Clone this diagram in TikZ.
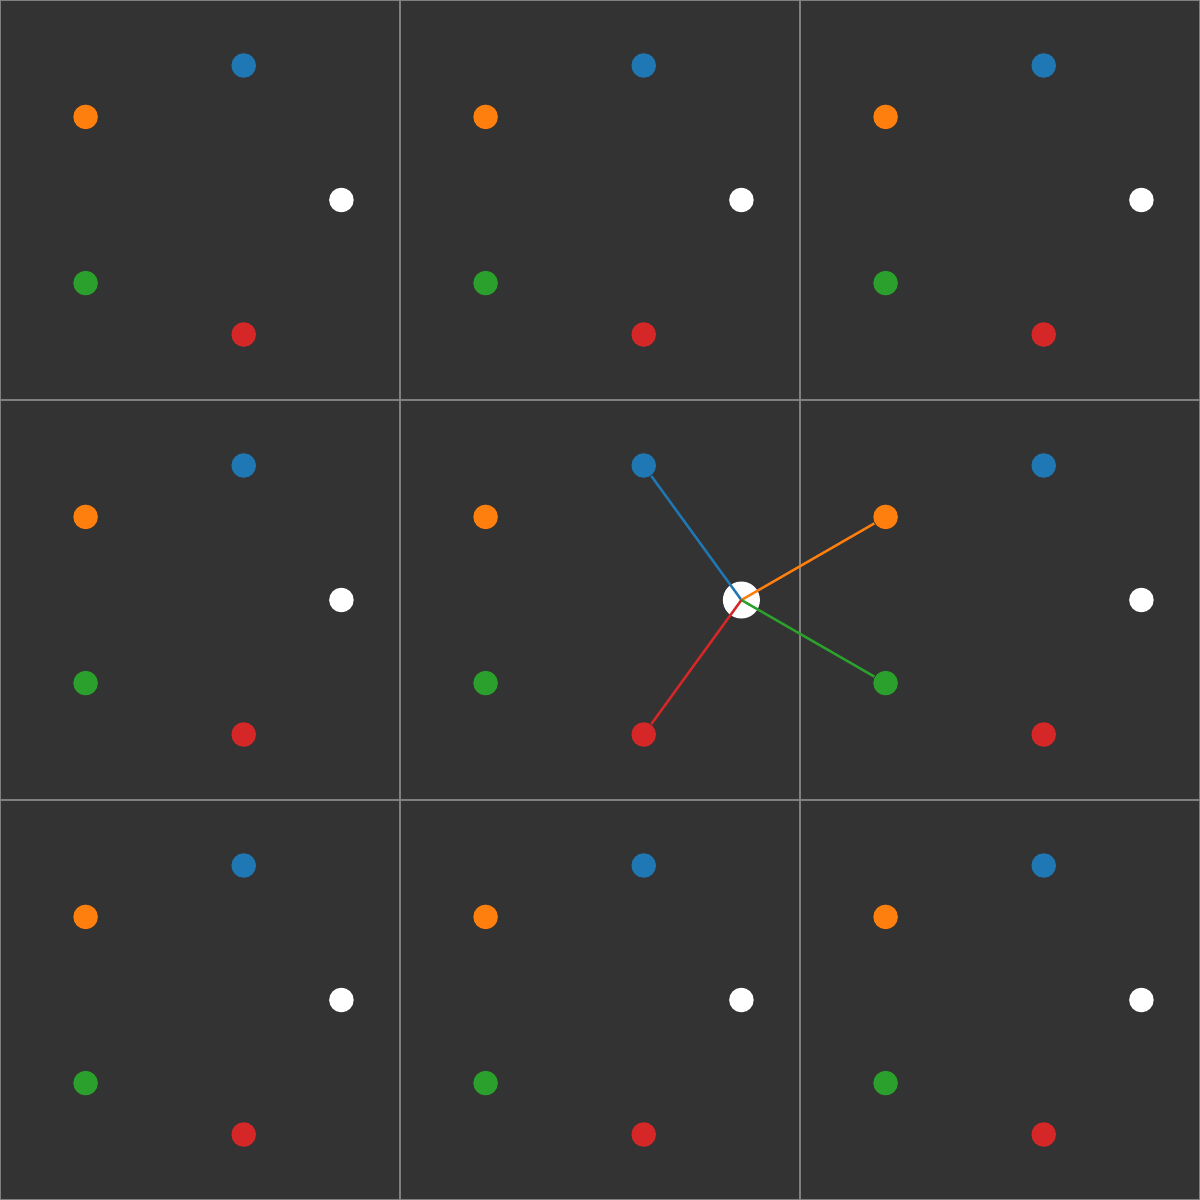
\documentclass[tikz,border=0pt]{standalone}
\usepackage{xcolor}
\definecolor{bgdark}{RGB}{51,51,51}
\definecolor{gridgray}{RGB}{128,128,128}
\definecolor{tabblue}{RGB}{31,119,180}
\definecolor{taborange}{RGB}{255,127,14}
\definecolor{tabgreen}{RGB}{44,160,44}
\definecolor{tabred}{RGB}{214,39,40}
\tikzset{
  dot/.style={circle, inner sep=0pt, minimum size=0.245cm, draw=none, fill=#1},
  bigdot/.style={circle, inner sep=0pt, minimum size=0.37cm, draw=none, fill=#1},
  bond/.style={line width=0.7pt, #1}
}

\begin{document}
\begin{tikzpicture}[x=0.01cm, y=-0.01cm]
    \useasboundingbox (0,0) rectangle (1200,1200);
    \fill[bgdark] (0,0) rectangle (1200,1200);
    % cell borders
    \foreach \k in {0,400,800,1200} {
      \draw[gridgray, line width=0.4pt] (\k,0) -- (\k,1200);
      \draw[gridgray, line width=0.4pt] (0,\k) -- (1200,\k);
    }
    % periodic images of the five sites
    \foreach \i in {0,1,2} {
      \foreach \j in {0,1,2} {
        \node[dot=tabblue] (blue-\i-\j) at (400*\i+243.7, 400*\j+65.5) {};
        \node[dot=taborange] (orange-\i-\j) at (400*\i+85.6, 400*\j+116.9) {};
        \node[dot=tabgreen] (green-\i-\j) at (400*\i+85.6, 400*\j+283.1) {};
        \node[dot=tabred] (red-\i-\j) at (400*\i+243.7, 400*\j+334.5) {};
      }
    }
    \foreach \i/\j in {0/0,1/0,2/0,0/1,2/1,0/2,1/2,2/2} {
      \node[dot=white] (white-\i-\j) at (400*\i+341.4, 400*\j+200) {};
    }
    \node[bigdot=white] (white-1-1) at (741.4, 600) {};
    % nearest neighbours of the central site
    \draw[bond=tabblue] (white-1-1.center) -- (blue-1-1);
    \draw[bond=taborange] (white-1-1.center) -- (orange-2-1);
    \draw[bond=tabgreen] (white-1-1.center) -- (green-2-1);
    \draw[bond=tabred] (white-1-1.center) -- (red-1-1);
\end{tikzpicture}
\end{document}
